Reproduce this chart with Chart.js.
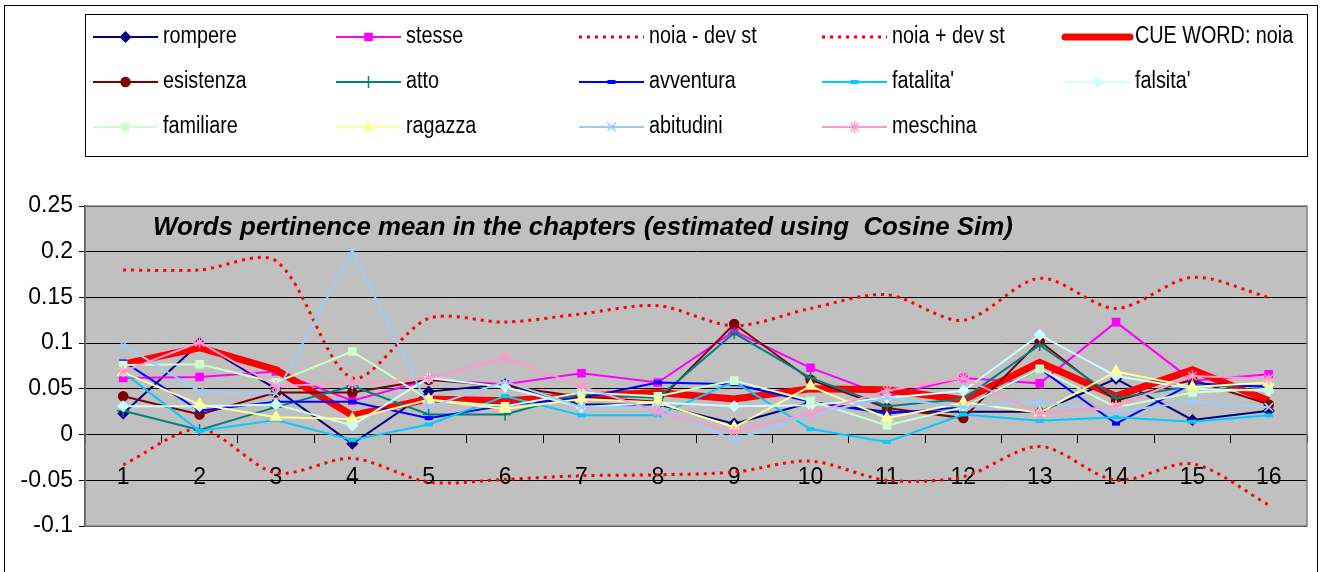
<!DOCTYPE html>
<html>
<head>
<meta charset="utf-8">
<script src="https://cdn.jsdelivr.net/npm/chart.js@4"></script>
<style>
  html, body { margin: 0; padding: 0; background: #fff; }
  #wrap { width: 1326px; height: 572px; }
</style>
</head>
<body>
<div id="wrap"><canvas id="chart" width="1326" height="572"></canvas></div>
<script>
// chapters on the x axis
const chapters = ['1','2','3','4','5','6','7','8','9','10','11','12','13','14','15','16'];
const yTickValues = [-0.1, -0.05, 0, 0.05, 0.1, 0.15, 0.2, 0.25];
const yTickLabels = ['-0.1', '-0.05', '0', '0.05', '0.1', '0.15', '0.2', '0.25'];
const chartTitle = 'Words pertinence mean in the chapters (estimated using  Cosine Sim)';

// values
const rompere    = [0.023, 0.100, 0.050, -0.010, 0.047, 0.055, 0.033, 0.033, 0.012, 0.035, 0.025, 0.025, 0.025, 0.061, 0.016, 0.026];
const stesse     = [0.062, 0.063, 0.069, 0.037, 0.060, 0.055, 0.067, 0.057, 0.113, 0.073, 0.042, 0.062, 0.056, 0.123, 0.059, 0.066];
const noiaMinus  = [-0.033, 0.006, -0.042, -0.026, -0.052, -0.049, -0.045, -0.044, -0.041, -0.029, -0.050, -0.046, -0.013, -0.050, -0.032, -0.077];
const noiaPlus   = [0.180, 0.180, 0.190, 0.062, 0.127, 0.123, 0.132, 0.141, 0.119, 0.138, 0.153, 0.125, 0.171, 0.138, 0.172, 0.150];
const noia       = [0.077, 0.095, 0.071, 0.021, 0.039, 0.037, 0.042, 0.046, 0.039, 0.050, 0.049, 0.038, 0.079, 0.042, 0.071, 0.037];
const esistenza  = [0.042, 0.022, 0.046, 0.046, 0.060, 0.053, 0.041, 0.036, 0.121, 0.060, 0.029, 0.018, 0.102, 0.037, 0.060, 0.033];
const atto       = [0.026, 0.005, 0.030, 0.053, 0.022, 0.022, 0.045, 0.040, 0.111, 0.062, 0.031, 0.039, 0.098, 0.040, 0.053, 0.053];
const avventura  = [0.080, 0.026, 0.036, 0.036, 0.018, 0.032, 0.040, 0.057, 0.055, 0.036, 0.023, 0.030, 0.072, 0.012, 0.056, 0.052];
const fatalita   = [0.068, 0.004, 0.016, -0.006, 0.011, 0.042, 0.021, 0.021, 0.058, 0.006, -0.008, 0.022, 0.015, 0.019, 0.014, 0.021];
const falsita    = [0.031, 0.031, 0.033, 0.010, 0.062, 0.052, 0.030, 0.035, 0.031, 0.032, 0.040, 0.048, 0.109, 0.064, 0.050, 0.048];
const familiare  = [0.076, 0.077, 0.057, 0.091, 0.038, 0.031, 0.046, 0.042, 0.059, 0.037, 0.010, 0.030, 0.072, 0.030, 0.046, 0.050];
const ragazza    = [0.068, 0.033, 0.019, 0.017, 0.038, 0.028, 0.039, 0.035, 0.008, 0.053, 0.018, 0.035, 0.024, 0.069, 0.052, 0.057];
const abitudini  = [0.098, 0.047, 0.045, 0.201, 0.030, 0.058, 0.030, 0.030, -0.006, 0.022, 0.040, 0.030, 0.036, 0.025, 0.036, 0.030];
const meschina   = [0.069, 0.101, 0.053, 0.056, 0.062, 0.084, 0.053, 0.025, 0.003, 0.023, 0.048, 0.062, 0.023, 0.031, 0.064, 0.061];

const FONT = "'Liberation Sans Narrow', 'Liberation Sans', Arial, sans-serif";

// one line series with a marker
function series(label, data, color, pointStyle, radius) {
  return {
    label, data,
    borderColor: color, backgroundColor: color,
    borderWidth: 2, tension: 0,
    pointStyle, pointRadius: radius, pointHoverRadius: radius,
    pointBackgroundColor: color, pointBorderColor: color, pointBorderWidth: 1.5
  };
}
function dotted(label, data) {
  return {
    label, data,
    borderColor: '#ff0000', backgroundColor: '#ff0000',
    borderWidth: 3, borderDash: [3, 5], tension: 0.3,
    pointRadius: 0, pointHoverRadius: 0, pointStyle: false
  };
}

const datasets = [
  series('rompere', rompere, '#000080', 'rectRot', 5),
  series('stesse', stesse, '#ff00ff', 'rect', 5),
  dotted('noia - dev st', noiaMinus),
  dotted('noia + dev st', noiaPlus),
  { label: 'CUE WORD: noia', data: noia, borderColor: '#ff0000', backgroundColor: '#ff0000',
    borderWidth: 7, tension: 0, pointRadius: 0, pointHoverRadius: 0, pointStyle: false },
  series('esistenza', esistenza, '#800000', 'circle', 4.5),
  series('atto', atto, '#008080', 'cross', 6),
  series('avventura', avventura, '#0000ff', 'line', 4),
  series('fatalita\'', fatalita, '#00ccff', 'line', 4),
  series('falsita\'', falsita, '#ccffff', 'rectRot', 5),
  series('familiare', familiare, '#ccffcc', 'rect', 5),
  series('ragazza', ragazza, '#ffff99', 'triangle', 6),
  series('abitudini', abitudini, '#99ccff', 'crossRot', 6),
  series('meschina', meschina, '#ff99cc', 'star', 6)
];
// later series sit on top, like the original
datasets.forEach((d, i) => { d.order = datasets.length - i; });
datasets.filter(d => d.pointStyle === 'line').forEach(d => { d.pointBorderWidth = 4; });

const frame = {
  id: 'frame',
  beforeDraw(chart) {
    const { ctx, chartArea: a } = chart;
    ctx.save();
    ctx.fillStyle = '#c0c0c0';
    ctx.fillRect(a.left, a.top, a.right - a.left, a.bottom - a.top);
    ctx.restore();
  },
  afterDraw(chart) {
    const { ctx, chartArea: a } = chart;
    ctx.save();
    ctx.strokeStyle = '#808080';
    ctx.lineWidth = 1.5;
    ctx.strokeRect(a.left, a.top, a.right - a.left, a.bottom - a.top);
    // outer box and legend box
    ctx.strokeStyle = '#000';
    ctx.lineWidth = 1;
    ctx.strokeRect(4.5, 5.5, 1313, 600);
    ctx.strokeRect(85.5, 14.5, 1222, 142);

    // title inside the plot
    let size = 22;
    ctx.font = `italic bold ${size}px 'Liberation Sans', Arial, sans-serif`;
    size = size * 860 / ctx.measureText(chartTitle).width;
    ctx.font = `italic bold ${size}px 'Liberation Sans', Arial, sans-serif`;
    ctx.fillStyle = '#000';
    ctx.textBaseline = 'middle';
    ctx.textAlign = 'left';
    ctx.fillText(chartTitle, 153, 228);

    // legend, 5 columns, narrow text
    ctx.font = `23px ${FONT}`;
    chart.data.datasets.forEach((ds, i) => {
      const col = i % 5, row = Math.floor(i / 5);
      const x0 = 93 + col * 243, y = 37 + row * 45;
      const len = 65;
      ctx.save();
      ctx.strokeStyle = ds.borderColor;
      ctx.lineWidth = ds.borderWidth;
      ctx.setLineDash(ds.borderDash || []);
      ctx.lineCap = ds.borderWidth > 4 ? 'round' : 'butt';
      ctx.beginPath();
      ctx.moveTo(x0, y);
      ctx.lineTo(x0 + len, y);
      ctx.stroke();
      ctx.restore();
      if (ds.pointStyle) {
        ctx.save();
        ctx.fillStyle = ds.pointBackgroundColor;
        ctx.strokeStyle = ds.pointBorderColor;
        ctx.lineWidth = ds.pointBorderWidth;
        Chart.helpers.drawPoint(ctx, { pointStyle: ds.pointStyle, radius: ds.pointRadius, borderWidth: ds.pointBorderWidth, rotation: 0 }, x0 + len / 2, y);
        ctx.restore();
      }
      ctx.save();
      ctx.translate(x0 + len + 5, y);
      ctx.scale(0.86, 1);
      ctx.fillStyle = '#000';
      ctx.fillText(ds.label, 0, 0);
      ctx.restore();
    });
    ctx.restore();
  }
};

new Chart(document.getElementById('chart'), {
  type: 'line',
  data: { labels: chapters, datasets },
  options: {
    responsive: false,
    animation: false,
    devicePixelRatio: 1,
    layout: { padding: { top: 206, right: 19, bottom: 46, left: 0 } },
    plugins: { legend: { display: false }, tooltip: { enabled: false }, title: { display: false } },
    scales: {
      x: {
        position: { y: 0 },
        offset: true,
        ticks: { font: { family: FONT, size: 23 }, color: '#000', padding: 21, maxRotation: 0 },
        grid: { drawOnChartArea: false, drawTicks: true, tickLength: 8, color: '#000', offset: true },
        border: { color: '#000', width: 1 }
      },
      y: {
        min: -0.1, max: 0.25,
        afterBuildTicks: s => { s.ticks = yTickValues.map(v => ({ value: v })); },
        afterFit: s => { s.width = 85; },
        ticks: { font: { family: FONT, size: 23 }, color: '#000', padding: 6,
                 callback: (v, i) => yTickLabels[i] },
        grid: { color: '#000', lineWidth: 1, tickLength: 6 },
        border: { color: '#000', width: 1.5 }
      }
    }
  },
  plugins: [frame]
});
</script>
</body>
</html>
